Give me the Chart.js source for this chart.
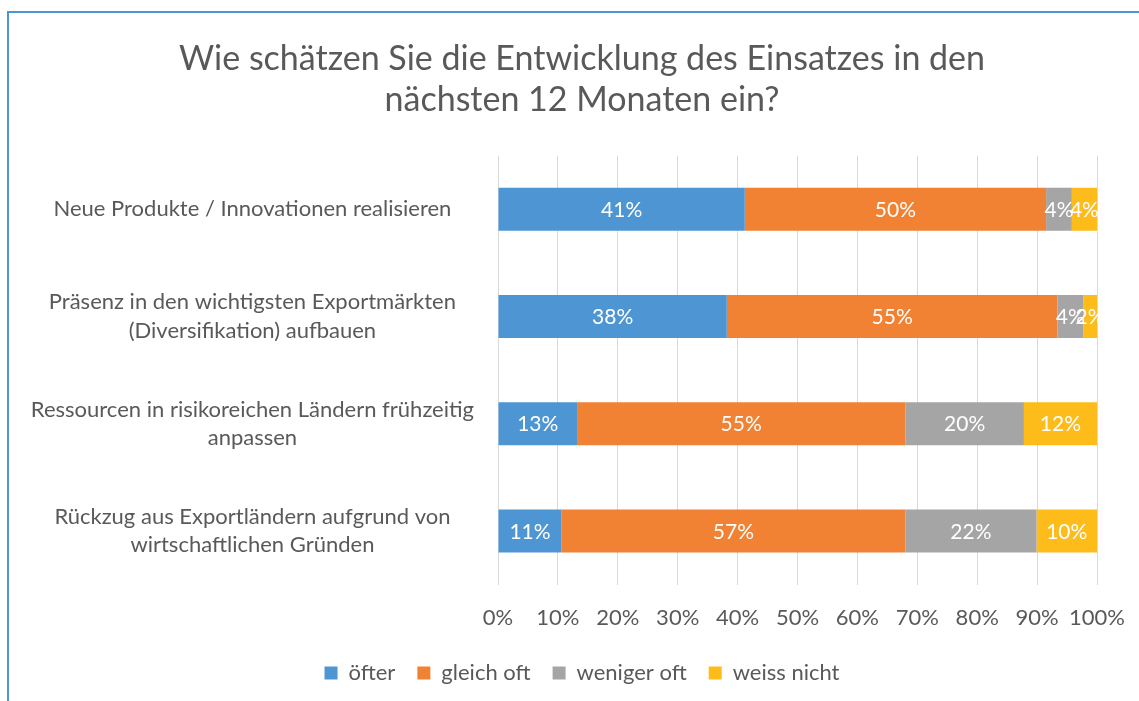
<!DOCTYPE html>
<html>
<head>
<meta charset="utf-8">
<script src="https://cdn.jsdelivr.net/npm/chart.js@4.4.1/dist/chart.umd.min.js"></script>
<style>
  html, body { margin: 0; padding: 0; background: #fff; overflow: hidden; }
  #wrap { position: relative; width: 1139px; height: 701px; }
  #frame { position: absolute; left: 7px; top: 11px; right: -5px; bottom: -5px;
           border-top: 2px solid #4A96D8; border-left: 2px solid #4A96D8; pointer-events: none; }
  canvas { position: absolute; left: 0; top: 0; }
</style>
</head>
<body>
<div id="wrap">
  <canvas id="myChart" width="1139" height="701"></canvas>
  <div id="frame"></div>
</div>
<script>
var categories = [
  "Neue Produkte / Innovationen realisieren",
  ["Präsenz in den wichtigsten Exportmärkten", "(Diversifikation) aufbauen"],
  ["Ressourcen in risikoreichen Ländern frühzeitig", "anpassen"],
  ["Rückzug aus Exportländern aufgrund von", "wirtschaftlichen Gründen"]
];
var oefter      = [41.2, 38.2, 13.2, 10.6];
var gleichOft   = [50.3, 55.2, 54.8, 57.4];
var wenigerOft  = [4.3, 4.3, 19.8, 21.9];
var weissNicht  = [4.2, 2.3, 12.2, 10.1];
var tickValues  = [0, 10, 20, 30, 40, 50, 60, 70, 80, 90, 100];

var textColor = "#595959";
var fontFamily = "Lato, 'Open Sans', sans-serif";

// white % labels in the middle of every segment
var segmentLabels = {
  id: 'segmentLabels',
  afterDatasetsDraw: function(chart) {
    var ctx = chart.ctx;
    ctx.save();
    ctx.fillStyle = "#ffffff";
    ctx.font = "21px " + fontFamily;
    ctx.textAlign = "center";
    ctx.textBaseline = "middle";
    chart.data.datasets.forEach(function(ds, i) {
      chart.getDatasetMeta(i).data.forEach(function(bar, j) {
        var x = (bar.x + bar.base) / 2;
        ctx.fillText(Math.round(ds.data[j]) + "%", x, bar.y + 1);
      });
    });
    ctx.restore();
  }
};

// title + legend are centred on the whole frame in the original, not on the plot
var centreShift = {
  id: 'centreShift',
  afterLayout: function(chart) {
    chart.titleBlock.left += 57;
    chart.legend.left += 57;
  }
};

var ctx = document.getElementById("myChart");
new Chart(ctx, {
  type: "bar",
  data: {
    labels: categories,
    datasets: [
      { label: "öfter", data: oefter, backgroundColor: "#4E96D3" },
      { label: "gleich oft", data: gleichOft, backgroundColor: "#F18133" },
      { label: "weniger oft", data: wenigerOft, backgroundColor: "#A5A5A5" },
      { label: "weiss nicht", data: weissNicht, backgroundColor: "#FDBC1A" }
    ]
  },
  plugins: [segmentLabels, centreShift],
  options: {
    indexAxis: "y",
    responsive: false,
    animation: false,
    categoryPercentage: 1,
    barPercentage: 0.4,
    layout: { padding: { top: 39, right: 42, bottom: 7, left: 10 } },
    plugins: {
      title: {
        display: true,
        text: ["Wie schätzen Sie die Entwicklung des Einsatzes in den", "nächsten 12 Monaten ein?"],
        color: textColor,
        font: { family: fontFamily, size: 34, weight: "normal" },
        lineHeight: 1.2,
        padding: { top: 0, bottom: 35 }
      },
      legend: {
        position: "bottom",
        labels: {
          color: textColor,
          font: { family: fontFamily, size: 22 },
          boxWidth: 13,
          boxHeight: 13,
          padding: 22
        }
      },
      tooltip: { enabled: false }
    },
    scales: {
      x: {
        stacked: true,
        min: 0,
        max: 100,
        afterBuildTicks: function(scale) {
          scale.ticks = tickValues.map(function(v) { return { value: v }; });
        },
        afterFit: function(scale) {
          scale.paddingRight = 0;
          scale.paddingLeft = 0;
          scale.height -= 11;
        },
        grid: { color: "#D9D9D9", lineWidth: 1, drawTicks: false },
        border: { display: false },
        ticks: {
          color: textColor,
          font: { family: fontFamily, size: 22 },
          padding: 20,
          maxRotation: 0,
          minRotation: 0,
          autoSkip: false,
          callback: function(v) { return v + "%"; }
        }
      },
      y: {
        stacked: true,
        grid: { display: false, drawTicks: false },
        border: { display: false },
        ticks: {
          color: textColor,
          font: { family: fontFamily, size: 22, lineHeight: 1.3 },
          crossAlign: "center",
          padding: 24
        },
        afterFit: function(scale) { scale.width = 488; }
      }
    }
  }
});
</script>
</body>
</html>
